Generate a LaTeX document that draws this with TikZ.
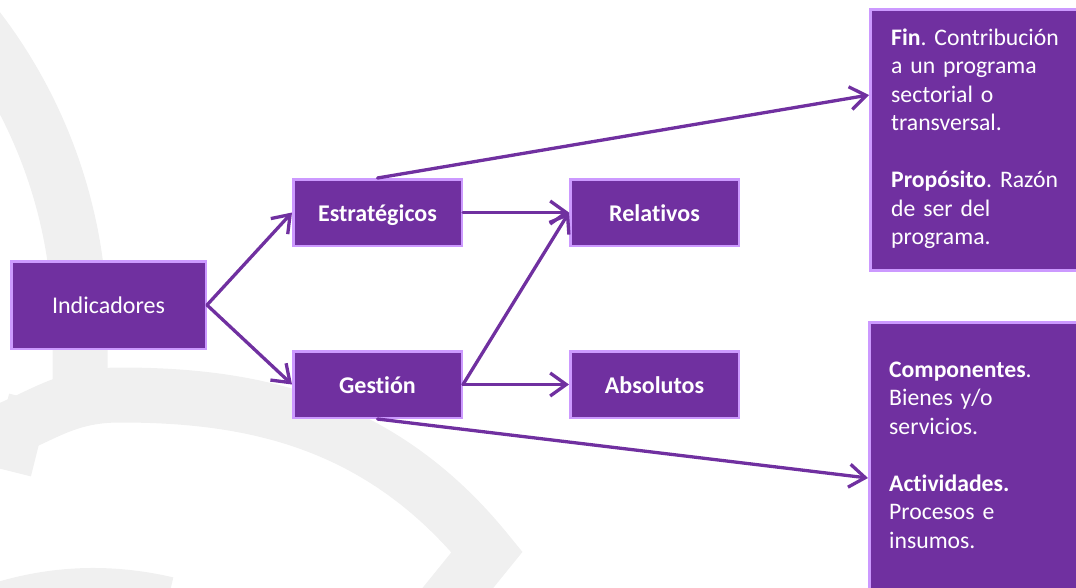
\documentclass[tikz,border=0pt]{standalone}
\usepackage{fontspec}
\setmainfont{Carlito}[Ligatures=NoCommon,WordSpace=0.75]
\usetikzlibrary{arrows.meta,calc}
\definecolor{purp}{HTML}{7030A0}
\definecolor{purpedge}{HTML}{CC99FF}
\definecolor{wm}{RGB}{240,240,240}
\frenchspacing
\begin{document}
\begin{tikzpicture}[x=1pt,y=-1pt,
  box/.style={draw=purpedge, line width=2.5pt, fill=purp, text=white, inner sep=0pt,
    text height=17pt, text depth=0pt, font=\fontsize{24}{29}\selectfont},
  smallbox/.style={box, minimum width=168.5pt, minimum height=66.5pt,
    font=\fontsize{24}{29}\selectfont\bfseries},
  conn/.style={draw=purp, line width=3.3pt, line cap=round, line join=round,
    -{Straight Barb[length=16pt,width=23pt]}},
  txt/.style={text=white, anchor=base west, inner sep=0pt, text width=185pt, align=left,
    font=\fontsize{23.7}{28.5}\selectfont},
  wmark/.style={draw=wm, line width=55pt}
]
\useasboundingbox (0,0) rectangle (1076,587);
\clip (0,0) rectangle (1076,587);

% faint watermark
\draw[wmark] (-47.4,-1.9) arc[start angle=-42, end angle=0, radius=496] -- (80,405);
\draw[wmark] (-20,440) .. controls (40,420) and (60,395) .. (120,395)
  .. controls (250,395) and (380,420) .. (487,552) -- (440,610);
\draw[wm, line width=75pt] (0,430) -- (40,440);
\draw[wm, line width=30pt] (-10,600) .. controls (50,580) and (110,578) .. (170,592);

% boxes
\node[box, minimum width=194.5pt, minimum height=87.5pt] (ind) at (108.5,305) {Indicadores};
\node[smallbox] (est) at (377.5,212.5) {Estratégicos};
\node[smallbox] (ges) at (377.5,384.5) {Gestión};
\node[smallbox] (rel) at (654.5,212.5) {Relativos};
\node[smallbox] (abs) at (654.5,384.5) {Absolutos};
\node[box, anchor=north west, minimum width=240pt, minimum height=261pt] (fin) at (869,8) {};
\node[box, anchor=north west, minimum width=240pt, minimum height=300pt] (comp) at (868,321) {};

% texts of the right boxes
\node[txt] (fintxt) at (891,45) {\textbf{Fin}. Contribución\\a un programa\\sectorial o\\transversal.\\[28.5pt]\textbf{Propósito}. Razón\\de ser del\\programa.};
\node[txt] (comptxt) at (889,377) {\textbf{Componentes}.\\Bienes y/o\\servicios.\\[28.5pt]\textbf{Actividades.}\\Procesos e\\insumos.};

% connectors
\draw[conn] (ind.east) -- (est.west);
\draw[conn] (ind.east) -- (ges.west);
\draw[conn] (est.east) -- (rel.west);
\draw[conn] (ges.east) -- (rel.west);
\draw[conn] (ges.east) -- (abs.west);
\draw[conn] (est.north) -- (fin.west |- 0,95);
\draw[conn] (ges.south) -- (comp.west |- 0,478);
\end{tikzpicture}
\end{document}
